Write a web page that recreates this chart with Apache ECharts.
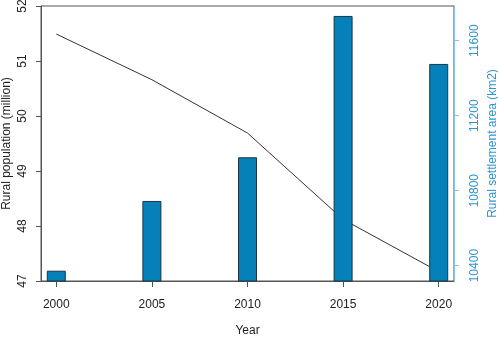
<!DOCTYPE html>
<html>
<head>
<meta charset="utf-8">
<script src="https://cdn.jsdelivr.net/npm/echarts@6/dist/echarts.min.js"></script>
<style>
  html, body { margin: 0; padding: 0; background: #fff; }
  #chart { width: 498px; height: 337px; }
</style>
</head>
<body>
<div id="chart"></div>
<script>
var years = [2000, 2005, 2010, 2015, 2020];
var population = [51.49, 50.66, 49.69, 48.12, 47.17];   // million
var settlementArea = [10373, 10745, 10978, 11732, 11476]; // km2
var leftTicks = [47, 48, 49, 50, 51, 52];
var rightTicks = [10400, 10800, 11200, 11600];

var FONT = 'Liberation Sans, Arial, sans-serif';
var BLUE = '#2b95d0';
var plain = function (v) { return String(v); };

var chart = echarts.init(document.getElementById('chart'));

var option = {
    animation: false,
    textStyle: { fontFamily: FONT },
    grid: {
        left: 41, right: 44, top: 6, bottom: 56,
        outerBoundsMode: 'none',
        show: true, borderColor: '#555', borderWidth: 1
    },
    xAxis: {
        type: 'value',
        min: 1999.2, max: 2020.8,
        name: 'Year', nameLocation: 'middle', nameGap: 44, nameMoveOverlap: false,
        nameTextStyle: { fontSize: 12, color: '#222', fontFamily: FONT },
        axisLine: { lineStyle: { color: '#555' } },
        axisTick: { length: 6, customValues: years, lineStyle: { color: '#555' } },
        axisLabel: { customValues: years, formatter: plain, margin: 18, fontSize: 12, color: '#222', fontFamily: FONT },
        splitLine: { show: false }
    },
    yAxis: [{
        type: 'value', position: 'left',
        min: 47, max: 52, interval: 1,
        name: 'Rural population (million)', nameLocation: 'middle', nameGap: 28, nameMoveOverlap: false,
        nameTextStyle: { fontSize: 12, color: '#222', fontFamily: FONT },
        axisLine: { show: true, lineStyle: { color: '#555' } },
        axisTick: { show: true, length: 5, customValues: leftTicks, lineStyle: { color: '#555' } },
        axisLabel: { customValues: leftTicks, formatter: plain, rotate: 90, margin: 12, fontSize: 12, color: '#222', fontFamily: FONT },
        splitLine: { show: false }
    }, {
        type: 'value', position: 'right',
        min: 10318, max: 11785,
        name: 'Rural settlement area (km2)', nameLocation: 'middle', nameGap: 33, nameMoveOverlap: false,
        nameTextStyle: { fontSize: 12, color: BLUE, fontFamily: FONT },
        axisLine: { show: true, lineStyle: { color: '#8cc3e3' } },
        axisTick: { show: true, length: 5, customValues: rightTicks, lineStyle: { color: '#8cc3e3' } },
        axisLabel: { customValues: rightTicks, formatter: plain, rotate: 90, margin: 15, fontSize: 12, color: BLUE, fontFamily: FONT },
        splitLine: { show: false }
    }],
    series: [{
        type: 'line',
        yAxisIndex: 0,
        z: 1,
        data: years.map(function (y, i) { return [y, population[i]]; }),
        symbol: 'none',
        lineStyle: { color: '#333', width: 1 }
    }, {
        type: 'bar',
        yAxisIndex: 1,
        z: 3,
        barWidth: 19,
        data: years.map(function (y, i) { return [y, settlementArea[i]]; }),
        itemStyle: { color: '#0580b8', borderColor: '#1d3545', borderWidth: 1 }
    }]
};

chart.setOption(option);
</script>
</body>
</html>
